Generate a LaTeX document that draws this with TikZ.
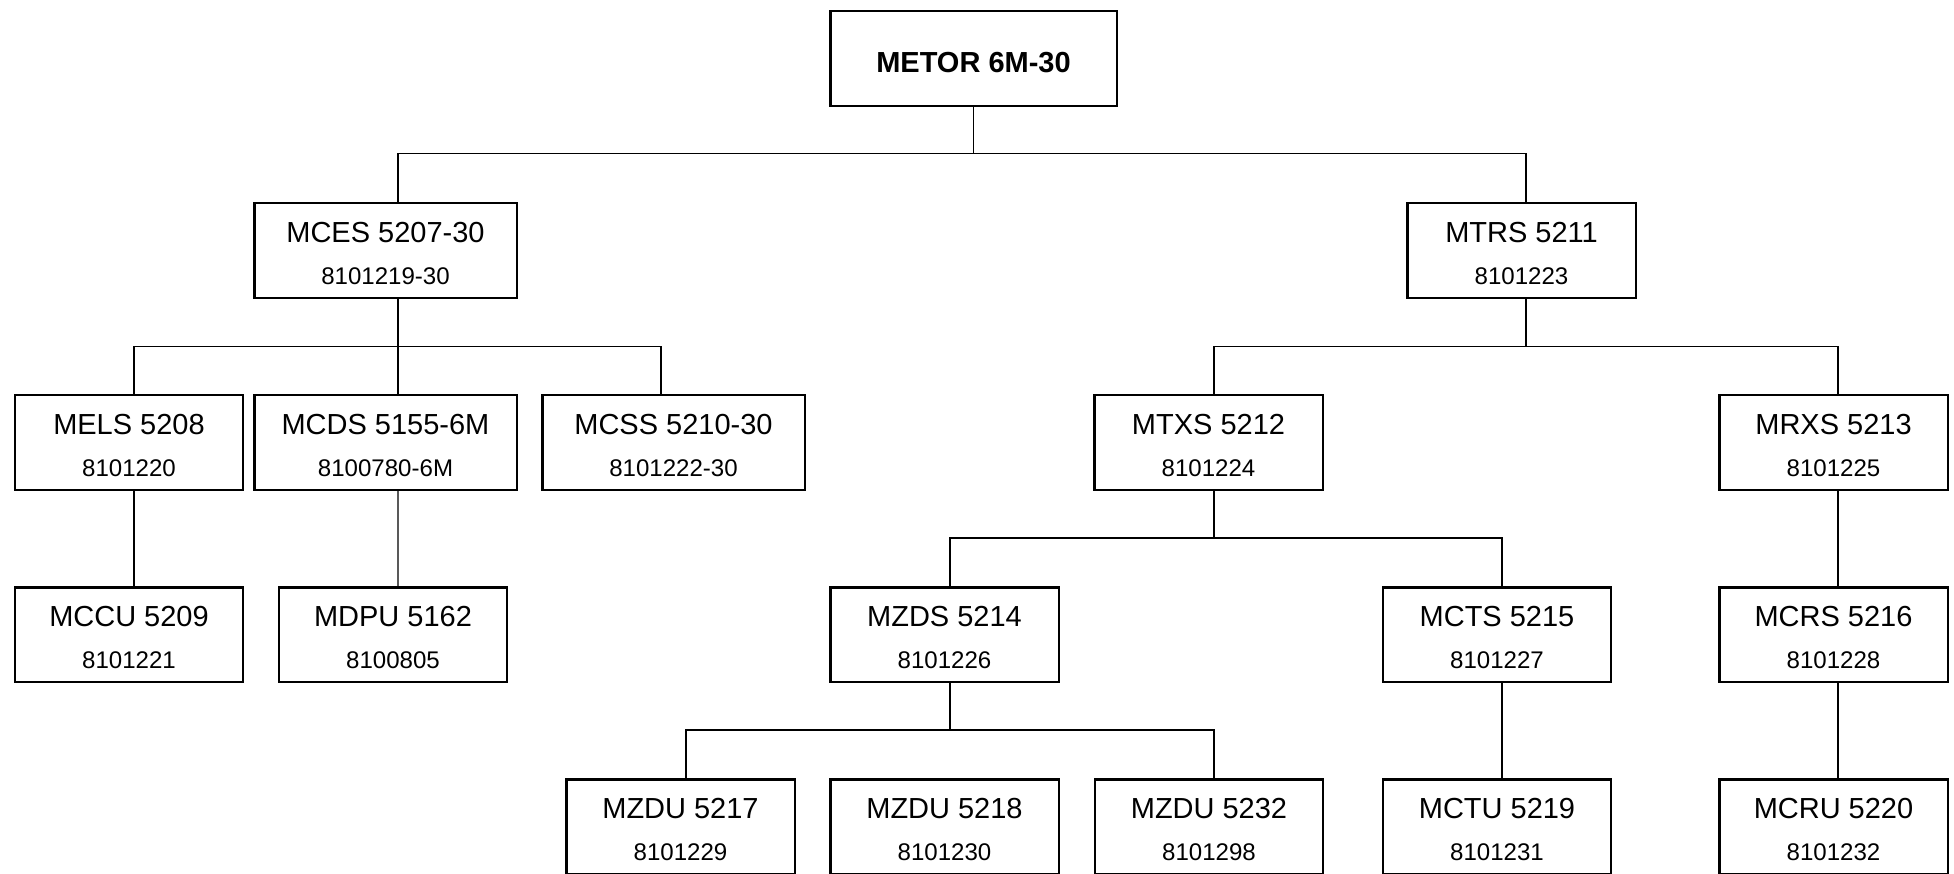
\documentclass[tikz,border=0pt]{standalone}
\usepackage{fontspec}
\setmainfont{Liberation Sans}
\newcommand{\partlabel}[2]{\rule{0pt}{14.7pt}#1\\{\fontsize{13.7}{23.9}\selectfont #2}}
\tikzset{
  part/.style={draw, line width=1.4pt, minimum width=4.57cm, minimum height=1.89cm,
    inner sep=0pt, align=center, font=\fontsize{16.5}{23.9}\selectfont},
  widepart/.style={part, minimum width=5.25cm},
  link/.style={line width=0.75pt}
}
\begin{document}
\begin{tikzpicture}[x=0.02cm, y=-0.02cm]
      \useasboundingbox (0,0) rectangle (1954,873);
      \node[part, minimum width=5.73cm, text height=0.58cm, font=\fontsize{16.5}{23.9}\selectfont\bfseries] (top) at (973.5,58.5) {METOR 6M-30};
      \node[widepart] (mces) at (385.5,250.5) {\partlabel{MCES 5207-30}{8101219-30}};
      \node[part] (mtrs) at (1521.5,250.5) {\partlabel{MTRS 5211}{8101223}};
      \node[part] (mels) at (129,442.5) {\partlabel{MELS 5208}{8101220}};
      \node[widepart] (mcds) at (385.5,442.5) {\partlabel{MCDS 5155-6M}{8100780-6M}};
      \node[widepart] (mcss) at (673.5,442.5) {\partlabel{MCSS 5210-30}{8101222-30}};
      \node[part] (mtxs) at (1208.5,442.5) {\partlabel{MTXS 5212}{8101224}};
      \node[part] (mrxs) at (1833.5,442.5) {\partlabel{MRXS 5213}{8101225}};
      \node[part] (mccu) at (129,634.5) {\partlabel{MCCU 5209}{8101221}};
      \node[part] (mdpu) at (393,634.5) {\partlabel{MDPU 5162}{8100805}};
      \node[part] (mzds) at (944.5,634.5) {\partlabel{MZDS 5214}{8101226}};
      \node[part] (mcts) at (1497,634.5) {\partlabel{MCTS 5215}{8101227}};
      \node[part] (mcrs) at (1833.5,634.5) {\partlabel{MCRS 5216}{8101228}};
      \node[part] (mzdu17) at (680.5,826.5) {\partlabel{MZDU 5217}{8101229}};
      \node[part] (mzdu18) at (944.5,826.5) {\partlabel{MZDU 5218}{8101230}};
      \node[part] (mzdu32) at (1209,826.5) {\partlabel{MZDU 5232}{8101298}};
      \node[part] (mctu) at (1497,826.5) {\partlabel{MCTU 5219}{8101231}};
      \node[part] (mcru) at (1833.5,826.5) {\partlabel{MCRU 5220}{8101232}};
      \begin{scope}[link]
        \draw (top.south) -- ++(0,47.5);
        \draw ([xshift=.25cm]mces.north) -- ++(0,-48.5) -| ([xshift=.09cm]mtrs.north);
        \draw ([xshift=.25cm]mces.south) -- ([xshift=.25cm]mcds.north);
        \draw ([xshift=.1cm]mels.north) -- ++(0,-47.5) -| ([xshift=-.25cm]mcss.north);
        \draw ([xshift=.09cm]mtrs.south) -- ++(0,48.5);
        \draw ([xshift=.11cm]mtxs.north) -- ++(0,-47.5) -| ([xshift=.09cm]mrxs.north);
        \draw ([xshift=.1cm]mels.south) -- ([xshift=.1cm]mccu.north);
        \draw ([xshift=.25cm]mcds.south) -- ([xshift=.1cm]mdpu.north);
        \draw ([xshift=.11cm]mtxs.south) -- ++(0,47.5);
        \draw ([xshift=.11cm]mzds.north) -- ++(0,-48) -| ([xshift=.1cm]mcts.north);
        \draw ([xshift=.09cm]mrxs.south) -- ([xshift=.09cm]mcrs.north);
        \draw ([xshift=.11cm]mzds.south) -- ++(0,47);
        \draw ([xshift=.11cm]mzdu17.north) -- ++(0,-48) -| ([xshift=.1cm]mzdu32.north);
        \draw ([xshift=.1cm]mcts.south) -- ([xshift=.1cm]mctu.north);
        \draw ([xshift=.09cm]mcrs.south) -- ([xshift=.09cm]mcru.north);
      \end{scope}
    \end{tikzpicture}
\end{document}
